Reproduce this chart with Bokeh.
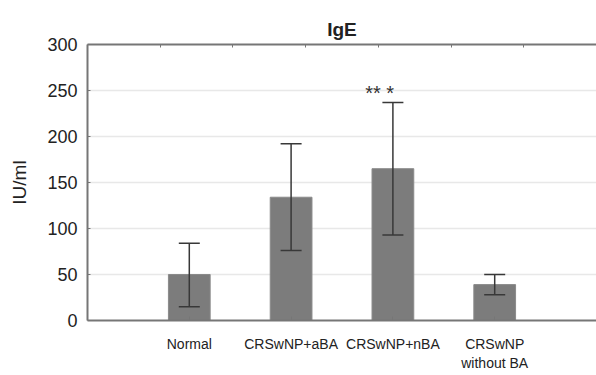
from bokeh.plotting import figure
from bokeh.models import (ColumnDataSource, Range1d, FixedTicker, Whisker,
                          LinearAxis, Title, TeeHead)
from bokeh.core.properties import value
from bokeh.embed import file_html
from bokeh.resources import INLINE

# Serum IgE by patient group (mean with SD)
title_text = "IgE"
categories = ["Normal", "CRSwNP+aBA", "CRSwNP+nBA", "CRSwNP\nwithout BA"]
means = [50, 134, 165, 39]
upper = [84, 192, 237, 50]
lower = [15, 76, 93, 28]
y_ticks = [0, 50, 100, 150, 200, 250, 300]
sig_label = "** *"
sig_y = 247

xs = list(range(1, len(categories) + 1))
src = ColumnDataSource(dict(x=xs, top=means, upper=upper, lower=lower))

p = figure(width=596, height=375, output_backend="svg", toolbar_location=None,
           x_range=Range1d(0, 5), y_range=Range1d(0, 300),
           min_border_left=87, min_border_right=0, min_border_top=44,
           min_border_bottom=55, x_axis_location="below")

p.title = Title(text=title_text, align="center", text_font="Liberation Sans",
                text_font_size="19px", text_font_style="bold",
                text_color="#222222", offset=0)

# blank strip that lifts the heading a little above the frame
p.add_layout(Title(text=" ", text_font_size="6px", standoff=0,
                   text_color=None), "above")

p.vbar(x="x", top="top", width=0.41, source=src, fill_color="#7c7c7c",
       line_color="#8a8a8a", line_width=1)

err_color = "#383838"
p.add_layout(Whisker(source=src, base="x", upper="upper", lower="lower",
                     level="overlay", line_color=err_color, line_width=1.5,
                     upper_head=TeeHead(size=21, line_color=err_color, line_width=1.5),
                     lower_head=TeeHead(size=21, line_color=err_color, line_width=1.5)))

p.text(x=[2.87], y=[sig_y], text=[sig_label], text_align="center",
       text_baseline="alphabetic", text_font=value("Liberation Sans"),
       text_font_size="20px", text_color="#333333")

# axes styling
axis_color = "#767676"
xa = p.xaxis[0]
xa.ticker = FixedTicker(ticks=xs)
xa.major_label_overrides = {x: c for x, c in zip(xs, categories)}
xa.major_label_text_font = "Liberation Sans"
xa.major_label_text_font_size = "14px"
xa.major_label_text_color = "#222222"
xa.major_label_standoff = 15
xa.major_tick_in = 4
xa.major_tick_out = 0
xa.minor_tick_line_color = None
xa.axis_line_color = axis_color
xa.axis_line_width = 2
xa.major_tick_line_color = axis_color

ya = p.yaxis[0]
ya.ticker = FixedTicker(ticks=y_ticks)
ya.major_label_text_font = "Liberation Sans"
ya.major_label_text_font_size = "18px"
ya.major_label_text_color = "#222222"
ya.major_label_standoff = 10
ya.major_tick_in = 3
ya.major_tick_out = 0
ya.minor_tick_line_color = None
ya.axis_line_color = axis_color
ya.axis_line_width = 2
ya.major_tick_line_color = axis_color
ya.axis_label = "IU/ml"
ya.axis_label_text_font = "Liberation Sans"
ya.axis_label_text_font_size = "19px"
ya.axis_label_text_font_style = "normal"
ya.axis_label_text_color = "#222222"
ya.axis_label_standoff = 14

# top border with its own evenly spaced inward ticks
p.extra_x_ranges = {"top": Range1d(0, 7)}
ta = LinearAxis(x_range_name="top", ticker=FixedTicker(ticks=[1, 2, 3, 4, 5, 6]),
                major_label_text_font_size="0px", major_label_standoff=0,
                major_tick_in=3, major_tick_out=0, minor_tick_line_color=None,
                axis_line_color=axis_color, axis_line_width=2,
                major_tick_line_color=axis_color)
p.add_layout(ta, "above")

p.xgrid.grid_line_color = None
p.ygrid.grid_line_color = "#e8e8e8"
p.ygrid.grid_line_width = 1.5
p.outline_line_color = None

open("out.html", "w").write(file_html(p, INLINE))
